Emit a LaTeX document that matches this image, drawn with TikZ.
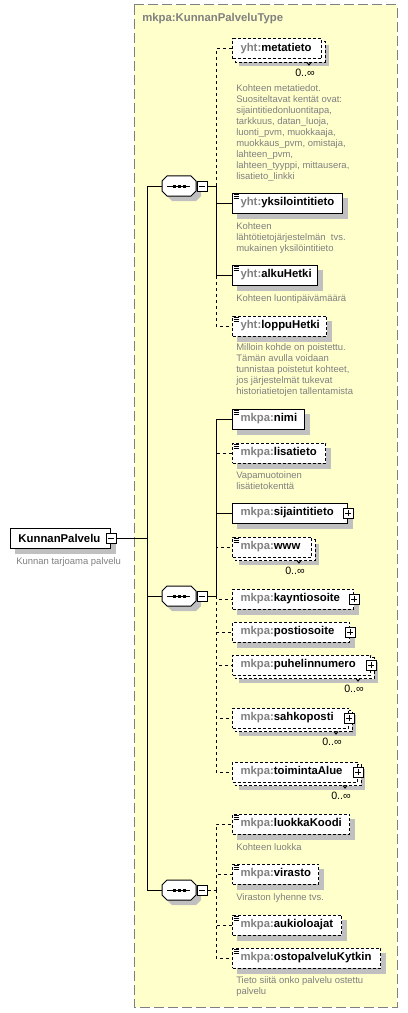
\documentclass[tikz,border=0pt]{standalone}
\usepackage{fontspec}
\setmainfont{Liberation Sans}
\usetikzlibrary{backgrounds}
\definecolor{bgy}{RGB}{255,255,204}
\definecolor{framec}{RGB}{128,128,128}
\definecolor{pfxc}{RGB}{128,128,128}
\definecolor{descc}{RGB}{128,128,128}
\definecolor{shadowc}{RGB}{192,192,192}
\newcommand\elfont{\fontsize{8.5pt}{10pt}\selectfont\bfseries}
\newcommand\dsfont{\fontsize{7.1pt}{8.25pt}\selectfont}
\tikzset{
 ln/.style={line width=.75pt},
 optline/.style={ln, dash pattern=on 2.25pt off 2.25pt},
 reqbox/.style={ln, draw=black, fill=white, anchor=west, minimum height=15pt, inner xsep=6pt, inner ysep=0pt, font=\elfont},
 optbox/.style={reqbox, dash pattern=on 2.25pt off 1.5pt},
 pmbox/.style={ln, draw=black, fill=white, minimum size=7.5pt, inner sep=0pt},
 minusbox/.style={pmbox, path picture={\draw[ln] ([xshift=1.5pt]path picture bounding box.west) -- ([xshift=-1.5pt]path picture bounding box.east);}},
 plusbox/.style={pmbox, path picture={\draw[ln] ([xshift=1.5pt]path picture bounding box.west) -- ([xshift=-1.5pt]path picture bounding box.east); \draw[ln] ([yshift=-1.5pt]path picture bounding box.north) -- ([yshift=1.5pt]path picture bounding box.south);}},
 desc/.style={anchor=north west, inner sep=0pt, align=left, text=descc, font=\dsfont},
 mult/.style={inner sep=0pt, font=\fontsize{8pt}{9.6pt}\selectfont},
}
% element box
\newcommand\el[6]{\node[#3] (#1) at (232,#2) {\makebox[#4][l]{{\color{pfxc}#5}#6}};}
% shadow
\newcommand\shd[2]{\begin{scope}[on background layer]\fill[shadowc] ([shift={(#2,#2)}]#1.north west) rectangle ([shift={(#2,#2)}]#1.south east);\end{scope}}
% back box of a repeating element
\newcommand\bk[1]{\begin{scope}[on background layer]\draw[ln, dash pattern=on 2.25pt off 1.5pt, fill=white] ([shift={(3,3)}]#1.north west) rectangle ([shift={(3,3)}]#1.south east);\draw[ln] ([shift={(-15,3)}]#1.south east) -- ++(2,2.5) -- ++(2,-2.5);\end{scope}}
% simple type icon
\newcommand\ic[1]{\foreach \yy in {2,4,6}{\draw[line width=.75pt] ([shift={(1.5,\yy)}]#1.north west) -- ++(5.5,0);}}
% multiplicity
\newcommand\mul[2]{\node[mult, anchor=east] (#1) at ([shift={(-7,24)}]#2.east) {0..∞};}
% sequence compositor
\newcommand\sq[2]{%
 \node[inner sep=0pt, minimum width=25.5pt, minimum height=15pt] (#1) at (179,#2) {};
 \begin{scope}[on background layer, shift={(184,#2+5)}]
  \fill[shadowc] (-12,-10) -- (12,-10) -- (17,-5) -- (17,5) -- (12,10) -- (-12,10) -- (-17,5) -- (-17,-5) -- cycle;
 \end{scope}
 \begin{scope}[shift={(179,#2)}]
  \draw[ln, fill=white] (-12,-10) -- (12,-10) -- (17,-5) -- (17,5) -- (12,10) -- (-12,10) -- (-17,5) -- (-17,-5) -- cycle;
  \draw[ln] (-12,0) -- (11,0);
  \fill (-6.5,-1.5) rectangle (-3.5,1.5);
  \fill (-1.5,-1.5) rectangle (1.5,1.5);
  \fill (3.5,-1.5) rectangle (6.5,1.5);
 \end{scope}
 \node[minusbox] (#1m) at (202,#2) {};}
\begin{document}
\begin{tikzpicture}[x=0.75pt,y=-0.75pt]
\useasboundingbox (0,0) rectangle (407,1013);
\begin{scope}[on background layer]
\fill[bgy] (134,5) rectangle (397,1007);
\end{scope}
\draw[framec, line width=.75pt, dash pattern=on 7.5pt off 3pt] (134,5) rectangle (397,1007);
\node[anchor=west, inner sep=0pt, font=\elfont, text=framec] (title) at (142,19) {mkpa:KunnanPalveluType};

% root
\node[reqbox] (root) at (10,538) {\makebox[63pt][l]{KunnanPalvelu}};
\shd{root}{5}
\node[minusbox] (rootm) at (root.east) {};
\node[desc] (rootd) at (16,557) {Kunnan tarjoama palvelu};

% compositors
\sq{s1}{186}
\sq{s2}{596}
\sq{s3}{890}

% group 1
\el{meta}{49}{optbox}{54.75pt}{yht:}{metatieto}
\el{yksi}{203}{reqbox}{70.5pt}{yht:}{yksilointitieto}
\el{alku}{275}{reqbox}{51.75pt}{yht:}{alkuHetki}
\el{loppu}{326}{optbox}{58.5pt}{yht:}{loppuHetki}
% group 2
\el{nimi}{419}{reqbox}{42pt}{mkpa:}{nimi}
\el{lisa}{453}{optbox}{57.75pt}{mkpa:}{lisatieto}
\el{sij}{513}{reqbox}{74.25pt}{mkpa:}{sijaintitieto}
\el{www}{547}{optbox}{47.25pt}{mkpa:}{www}
\el{kaynti}{599}{optbox}{78.75pt}{mkpa:}{kayntiosoite}
\el{posti}{632}{optbox}{75.75pt}{mkpa:}{postiosoite}
\el{puh}{665}{optbox}{91.5pt}{mkpa:}{puhelinnumero}
\el{sahko}{718}{optbox}{75pt}{mkpa:}{sahkoposti}
\el{toim}{772}{optbox}{81.75pt}{mkpa:}{toimintaAlue}
% group 3
\el{luokka}{824}{optbox}{75.75pt}{mkpa:}{luokkaKoodi}
\el{vir}{874}{optbox}{52.5pt}{mkpa:}{virasto}
\el{auki}{925}{optbox}{69.75pt}{mkpa:}{aukioloajat}
\el{osto}{958}{optbox}{99pt}{mkpa:}{ostopalveluKytkin}

% shadows and back boxes
\shd{meta}{7}\bk{meta}
\shd{yksi}{5}\shd{alku}{5}\shd{loppu}{5}
\shd{nimi}{5}\shd{lisa}{5}\shd{sij}{5}
\shd{www}{7}\bk{www}
\shd{kaynti}{5}\shd{posti}{5}
\shd{puh}{7}\bk{puh}
\shd{sahko}{7}\bk{sahko}
\shd{toim}{7}\bk{toim}
\shd{luokka}{5}\shd{vir}{5}\shd{auki}{5}\shd{osto}{5}

% icons
\ic{yksi}\ic{alku}\ic{loppu}\ic{nimi}\ic{lisa}\ic{www}\ic{luokka}\ic{vir}\ic{auki}\ic{osto}

% plus boxes
\node[plusbox] (sijp) at (sij.east) {};
\node[plusbox] (kayntip) at (kaynti.east) {};
\node[plusbox] (postip) at (posti.east) {};
\node[plusbox] (puhp) at (puh.east) {};
\node[plusbox] (sahkop) at (sahko.east) {};
\node[plusbox] (toimp) at (toim.east) {};

% multiplicities
\mul{metan}{meta}
\mul{wwwn}{www}
\mul{puhn}{puh}
\mul{sahkon}{sahko}
\mul{toimn}{toim}

% descriptions
\node[desc] (metad) at (236,84) {Kohteen metatiedot.\\Suositeltavat kentät ovat:\\sijaintitiedonluontitapa,\\tarkkuus, datan\_luoja,\\luonti\_pvm, muokkaaja,\\muokkaus\_pvm, omistaja,\\lahteen\_pvm,\\lahteen\_tyyppi, mittausera,\\lisatieto\_linkki};
\node[desc] (yksid) at (236,222) {Kohteen\\lähtötietojärjestelmän\ \ tvs.\\mukainen yksilöintitieto};
\node[desc] (alkud) at (236,294) {Kohteen luontipäivämäärä};
\node[desc] (loppud) at (236,343) {Milloin kohde on poistettu.\\Tämän avulla voidaan\\tunnistaa poistetut kohteet,\\jos järjestelmät tukevat\\historiatietojen tallentamista};
\node[desc] (lisad) at (236,471) {Vapamuotoinen\\lisätietokenttä};
\node[desc] (luokkad) at (236,843) {Kohteen luokka};
\node[desc] (vird) at (236,893) {Viraston lyhenne tvs.};
\node[desc] (ostod) at (236,976) {Tieto siitä onko palvelu ostettu\\palvelu};

% trunk
\coordinate (t1) at (147,186);
\coordinate (t3) at (147,890);
\draw[ln] (t1) -- (t3);
\draw[ln] (rootm.east) -- (rootm.east -| t1);
\draw[ln] (t1) -- (s1.west);
\draw[ln] (s2.west -| t1) -- (s2.west);
\draw[ln] (t3) -- (s3.west);

% group 1 connectors
\coordinate (j1) at (216,186);
\draw[ln] (s1m.east) -- (j1);
\draw[optline] (j1) |- (meta.west);
\draw[optline] (j1) |- (loppu.west);
\draw[ln] (j1) |- (yksi.west);
\draw[ln] (j1) |- (alku.west);

% group 2 connectors
\coordinate (j2) at (216,596);
\draw[ln] (s2m.east) -- (j2);
\draw[optline] (j2) |- (lisa.west);
\draw[optline] (j2) |- (www.west);
\draw[ln] (j2) |- (nimi.west);
\draw[ln] (j2) |- (sij.west);
\draw[optline] (j2) |- (kaynti.west);
\draw[optline] (j2) |- (posti.west);
\draw[optline] (j2) |- (puh.west);
\draw[optline] (j2) |- (sahko.west);
\draw[optline] (j2) |- (toim.west);

% group 3 connectors
\coordinate (j3) at (216,890);
\draw[optline] (s3m.east) -- (j3);
\draw[optline] (j3) |- (luokka.west);
\draw[optline] (j3) |- (vir.west);
\draw[optline] (j3) |- (auki.west);
\draw[optline] (j3) |- (osto.west);
\end{tikzpicture}
\end{document}
